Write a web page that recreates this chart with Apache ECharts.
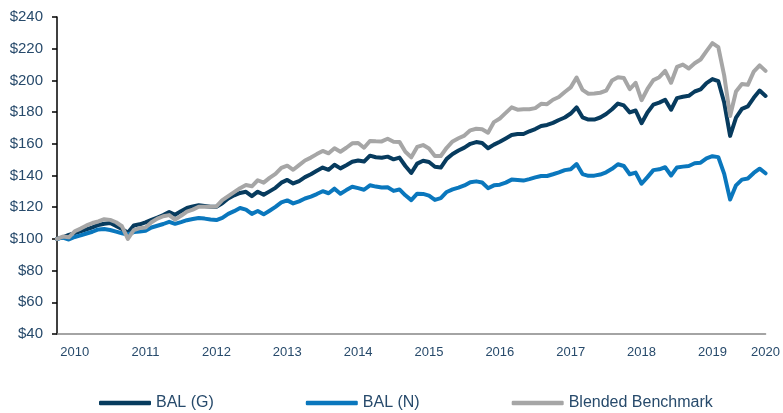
<!DOCTYPE html>
<style>
body {margin: 0;}
#div_echart {height: 413px; width: 783px;}
</style>
<script src='https://cdn.jsdelivr.net/npm/echarts@6/dist/echarts.min.js'></script>
<div id='div_echart'></div>
<script>
// monthly growth of $100, Sep 2010 .. Sep 2020
let start_year = 2010
let start_month = 9
let bal_g = [
	100, 101, 102.5, 103.7, 104.8, 106, 107.3, 108.8, 109.6, 110, 108.2, 106.2,
	103.9, 108.5, 109.2, 110.4, 112, 113.5, 115, 117, 115.2, 117.5, 119.5, 120.5,
	121.3, 120.8, 120.3, 120.3, 122.5, 125.5, 127.5, 129, 129.7, 127, 129.8, 127.8,
	130, 132.2, 135.5, 137.2, 135, 136.5, 139, 140.8, 143, 145, 143.6, 146.8,
	144.5, 146.5, 148.7, 149.5, 148.8, 152.5, 151.5, 151.2, 151.9, 150.2, 151.3, 146,
	141.6, 147.5, 149.3, 148.5, 145.5, 145, 150.5, 153.6, 155.8, 157.6, 160, 161.1,
	160.5, 157.2, 159.5, 161.3, 163.4, 165.6, 166.2, 166.2, 167.9, 169.3, 171.2, 171.9,
	173.2, 175, 176.6, 179.1, 183, 176.7, 175.3, 175.3, 176.6, 178.8, 181.8, 185.4,
	184.2, 179.8, 181, 173, 179.8, 184.7, 186, 187.8, 181.5, 188.8, 189.7, 190.3,
	193, 194.3, 198.3, 200.8, 199.5, 186, 165, 176.5, 182, 183.6, 189, 193.6,
	190.2
]
let bal_n = [
	100, 100.8, 99.6, 101.2, 102.2, 103.4, 104.5, 106, 106.2, 105.6, 104.6, 103.6,
	102.8, 104.3, 104.6, 105.2, 107.2, 108.3, 109.4, 110.8, 109.5, 110.6, 111.8, 112.5,
	113.2, 112.8, 112.2, 111.9, 113.3, 115.8, 117.5, 119.5, 118.5, 115.8, 117.6, 115.5,
	117.8, 120.2, 123, 124.3, 122.4, 123.7, 125.5, 126.7, 128.3, 130.1, 128.8, 131.7,
	128.5, 130.8, 132.9, 132, 131, 133.8, 133, 132.4, 132.6, 130.3, 131.2, 127.5,
	124.5, 128.5, 128.4, 127.3, 124.6, 125.7, 129.6, 131.2, 132.3, 133.7, 135.8, 136.3,
	135.6, 132, 133.8, 134.2, 135.5, 137.4, 137.2, 136.8, 137.7, 138.8, 139.7, 139.7,
	140.8, 142, 143.4, 143.9, 147.2, 140.9, 139.8, 139.9, 140.6, 142, 144.2, 147.1,
	146, 140.8, 141.8, 134.8, 139, 143.4, 143.9, 145.2, 140, 145.1, 145.6, 146,
	147.7, 148.1, 150.8, 152.2, 151.6, 141, 124.8, 133.8, 137.4, 138.1, 141.6, 144.3,
	141.4
]
let blended = [
	100, 101.5, 101, 104.8, 106.5, 108.5, 110, 111, 112.4, 112, 110.5, 108,
	100, 105.5, 106.8, 107.2, 110.5, 112.8, 114.3, 115, 112.2, 114.5, 117.2, 118.5,
	120.3, 120.3, 120.3, 120.5, 124.5, 127, 129.5, 132, 134, 133.2, 137, 135.5,
	138.5, 141, 144.8, 146.2, 143.6, 146.5, 149.5, 151.3, 153.5, 155.5, 154, 157.2,
	155, 157.5, 160.3, 160.5, 157.5, 161.8, 161.6, 161.5, 163.2, 161.3, 161.2, 155,
	151.5, 158, 159.2, 157, 152.3, 152.3, 157.5, 161.5, 163.5, 165.2, 168.5, 169.5,
	169.2, 167, 173.7, 176, 179.5, 183, 181.5, 181.8, 181.8, 182.5, 185.2, 185,
	187.8, 189.5, 192.7, 195.6, 201.8, 194, 191.6, 191.8, 192.2, 193.5, 200, 202,
	201.5, 194.5, 198.5, 187.5, 194.6, 200.2, 202, 206, 198.5, 208.5, 210, 207.5,
	210.8, 213.2, 218.5, 223.5, 221, 203, 177.5, 193, 197.7, 197.2, 205.5, 209.5,
	206
]
let series_names = ['BAL (G)', 'BAL (N)', 'Blended Benchmark']
let series_colors = ['#073B5E', '#0A77BD', '#A6A6A6']

let months = []
for (let i = 0; i < bal_g.length; i++) {
	let m = start_month - 1 + i
	let y = start_year + Math.floor(m / 12)
	months.push(y + '-' + String(m % 12 + 1).padStart(2, '0'))
}
let last = months.length - 1
let font = 'Liberation Sans, Arial, sans-serif'
let text_color = '#274A6B'

let echart = echarts.init(document.getElementById('div_echart'))
echart.setOption({
	animation: false,
	grid: {left: 57, right: 11, top: 17, bottom: 79},
	legend: {
		left: 99, top: 388, padding: 0, itemGap: 92, itemWidth: 52, itemHeight: 4.5,
		icon: 'roundRect',
		textStyle: {color: text_color, fontSize: 16, fontFamily: font, lineHeight: 30},
		data: series_names
	},
	xAxis: {
		type: 'category', boundaryGap: false, data: months,
		axisLine: {onZero: false, lineStyle: {color: '#868686', width: 1.5}},
		axisTick: {show: false},
		axisLabel: {
			color: text_color, fontSize: 13, fontFamily: font, margin: 7,
			interval: (i, v) => v.endsWith('-12') || i === last,
			formatter: v => v.slice(0, 4)
		},
		splitLine: {show: false}
	},
	yAxis: {
		type: 'value', min: 40, max: 240, interval: 20,
		axisLine: {show: true, lineStyle: {color: '#000', width: 1.5}},
		axisTick: {show: true, length: 5, lineStyle: {color: '#000', width: 1.5}},
		axisLabel: {color: text_color, fontSize: 15, fontFamily: font, margin: 14, formatter: '${value}'},
		splitLine: {show: false}
	},
	series: [bal_g, bal_n, blended].map((d, i) => ({
		name: series_names[i], type: 'line', data: d, showSymbol: false, symbol: 'none',
		color: series_colors[i],
		lineStyle: {width: 4, color: series_colors[i], cap: 'round', join: 'round'}
	}))
})
</script>
